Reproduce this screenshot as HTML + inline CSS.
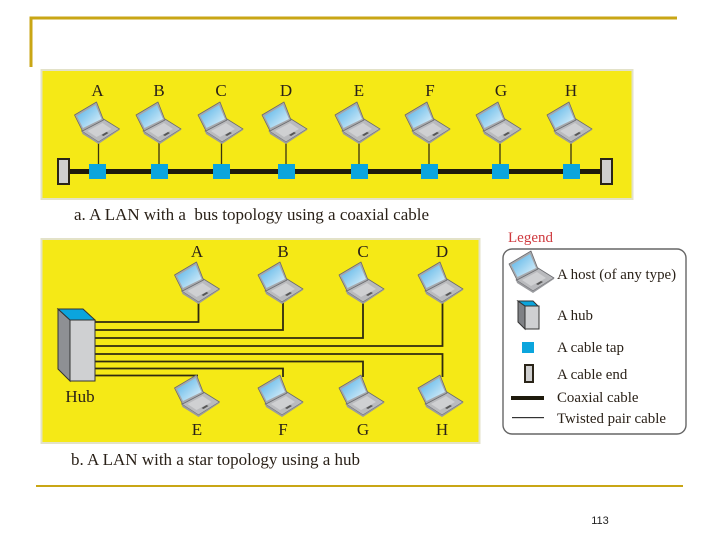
<!DOCTYPE html>
<html><head><meta charset="utf-8"><style>
html,body{margin:0;padding:0;background:#fff}
svg{display:block}
text{font-family:"Liberation Serif",serif;fill:#2a2118;white-space:pre}
</style></head><body>
<svg width="720" height="540" viewBox="0 0 720 540" xmlns="http://www.w3.org/2000/svg">
<defs>
<linearGradient id="scr" x1="0" y1="0" x2="1" y2="1"><stop offset="0" stop-color="#4fb0e6"/><stop offset="1" stop-color="#e6f4fb"/></linearGradient>
<g id="lap">
<polygon points="-17,-12 5,-24 21,-14 0,-1" fill="#b9babd" stroke="#6a6b6f" stroke-width=".8" stroke-linejoin="round"/>
<polygon points="-24,-28 -2,-41 5,-23 -16,-12" fill="#a6a8ac" stroke="#6a6b6f" stroke-width=".8" stroke-linejoin="round"/>
<polygon points="-21.500,-27 -3,-38 3,-24 -15.500,-15" fill="url(#scr)"/>
<polygon points="-11,-12 4,-20 13,-14 -2,-6" fill="#cfd0d2"/>
<polygon points="3,-8 8,-11 10,-10 5,-7" fill="#555"/>
<polygon points="-17,-12 0,-1 21,-14 21,-13 0,1 -16,-9" fill="#9a9b9f"/>
</g>
</defs>
<rect width="720" height="540" fill="#fff"/>
<path d="M31 67V18H677" fill="none" stroke="#c9a615" stroke-width="3"/>
<rect x="36" y="485" width="647" height="2" fill="#c9a615"/>
<text x="600" y="524" text-anchor="middle" style="font-family:'Liberation Sans',sans-serif;font-size:11px;fill:#222">113</text>

<rect x="41.500" y="70" width="591" height="129" fill="#f5e916" stroke="#e3e2c8" stroke-width="2"/>
<rect x="41.500" y="239" width="438" height="204" fill="#f5e916" stroke="#e3e2c8" stroke-width="2"/>

<!-- Bus -->
<rect x="68" y="169" width="534" height="5" fill="#1e1a0c"/>
<rect x="58" y="159" width="11" height="25" fill="#cfcfcf" stroke="#2a2418" stroke-width="2"/>
<rect x="601" y="159" width="11" height="25" fill="#cfcfcf" stroke="#2a2418" stroke-width="2"/>
<g stroke="#3a3410" stroke-width="1.300">
<path d="M98.500 143V164M159 143V164M221.500 143V164M286 143V164M359 143V164M429 143V164M500 143V164M571 143V164"/>
</g>
<g fill="#0ba5dd">
<rect x="89" y="164" width="17" height="15"/><rect x="151" y="164" width="17" height="15"/><rect x="213" y="164" width="17" height="15"/><rect x="278" y="164" width="17" height="15"/><rect x="351" y="164" width="17" height="15"/><rect x="421" y="164" width="17" height="15"/><rect x="492" y="164" width="17" height="15"/><rect x="563" y="164" width="17" height="15"/>
</g>
<use href="#lap" x="98.500" y="143"/><use href="#lap" x="160" y="143"/><use href="#lap" x="222" y="143"/><use href="#lap" x="286" y="143"/><use href="#lap" x="359" y="143"/><use href="#lap" x="429" y="143"/><use href="#lap" x="500" y="143"/><use href="#lap" x="571" y="143"/>
<g font-size="17" text-anchor="middle">
<text x="97.500" y="96">A</text><text x="159" y="96">B</text><text x="221" y="96">C</text><text x="286" y="96">D</text><text x="359" y="96">E</text><text x="430" y="96">F</text><text x="501" y="96">G</text><text x="571" y="96">H</text>
</g>
<text x="74" y="220" font-size="17">a. A LAN with a  bus topology using a coaxial cable</text>

<!-- Star -->
<g fill="none" stroke="#2f2a10" stroke-width="1.800">
<path d="M95 322H198.500V303"/>
<path d="M95 330H283V303"/>
<path d="M95 338H363V303"/>
<path d="M95 346H442.500V303"/>
<path d="M95 354H442.500V377"/>
<path d="M95 361.500H363V377"/>
<path d="M95 368.500H283V377"/>
<path d="M95 375.500H198"/>
</g>
<polygon points="58,309 70,320 70,381 58,369" fill="#8e9094" stroke="#333" stroke-width="1"/>
<polygon points="58,309 83,309 95,320 70,320" fill="#0ba5dd" stroke="#333" stroke-width="1"/>
<rect x="70" y="320" width="25" height="61" fill="#cfd0d2" stroke="#333" stroke-width="1"/>
<use href="#lap" x="198.500" y="303"/><use href="#lap" x="282" y="303"/><use href="#lap" x="363" y="303"/><use href="#lap" x="442" y="303"/>
<use href="#lap" x="198.500" y="416"/><use href="#lap" x="282" y="416"/><use href="#lap" x="363" y="416"/><use href="#lap" x="442" y="416"/>
<g font-size="17" text-anchor="middle">
<text x="197" y="257">A</text><text x="283" y="257">B</text><text x="363" y="257">C</text><text x="442" y="257">D</text>
<text x="197" y="435">E</text><text x="283" y="435">F</text><text x="363" y="435">G</text><text x="442" y="435">H</text>
<text x="80" y="402">Hub</text>
</g>
<text x="71" y="465" font-size="17">b. A LAN with a star topology using a hub</text>

<!-- Legend -->
<text x="508" y="242" font-size="15" style="fill:#cf3a3f">Legend</text>
<rect x="503" y="249" width="183" height="185" rx="9" fill="#fff" stroke="#666" stroke-width="1.400"/>
<use href="#lap" x="533" y="292"/>
<polygon points="518,301 525,306 525,329 518,322" fill="#7f8185" stroke="#333" stroke-width="1"/>
<polygon points="518,301 533,301 538,306 525,306" fill="#0ba5dd" stroke="#333" stroke-width="1"/>
<rect x="525" y="306" width="14" height="23" fill="#cfd0d2" stroke="#333" stroke-width="1"/>
<rect x="522" y="342" width="12" height="11" fill="#0ba5dd"/>
<rect x="525" y="365" width="8" height="17" fill="#cfcfcf" stroke="#2a2418" stroke-width="2"/>
<rect x="511" y="396" width="33" height="4" fill="#1e1a0c"/>
<rect x="512" y="417" width="32" height="1.200" fill="#333"/>
<g font-size="14.900">
<text x="557" y="279">A host (of any type)</text>
<text x="557" y="320">A hub</text>
<text x="557" y="352">A cable tap</text>
<text x="557" y="379">A cable end</text>
<text x="557" y="402">Coaxial cable</text>
<text x="557" y="423">Twisted pair cable</text>
</g>
</svg>
</body></html>
